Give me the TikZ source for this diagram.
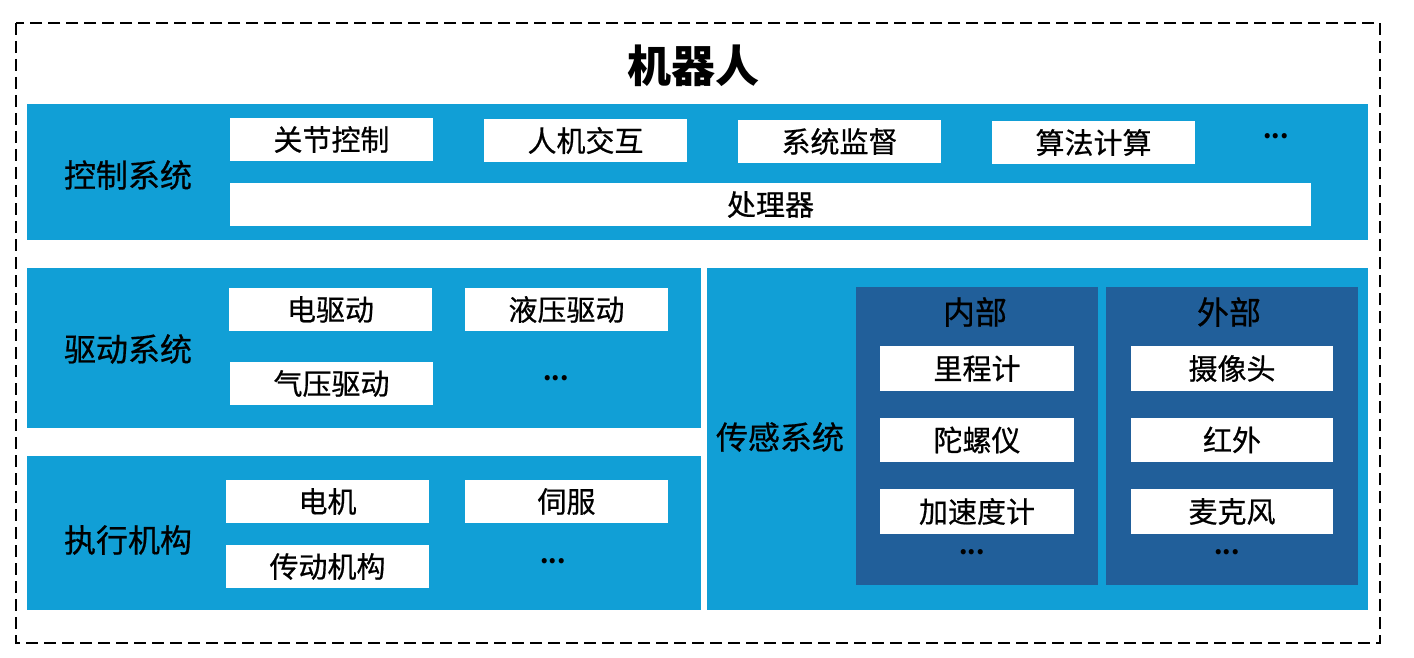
\documentclass[tikz,border=0pt]{standalone}
\usepackage{fontspec}
\newfontfamily\cjk[FakeBold=0.6]{Noto Sans CJK SC}
\newfontfamily\cjkb{Noto Sans CJK SC}
\definecolor{lb}{RGB}{17,159,214}
\definecolor{db}{RGB}{33,95,154}
\tikzset{
  panel/.style={fill=lb,draw=none},
  dpanel/.style={fill=db,draw=none},
  wbox/.style={fill=white,draw=none},
  lbl/.style={font=\cjk\fontsize{32}{36}\selectfont,text=black},
  btxt/.style={font=\cjk\fontsize{29}{32}\selectfont,text=black},
  dots/.style={font=\cjkb\bfseries\fontsize{24}{28}\selectfont,text=black},
}
\begin{document}
\begin{tikzpicture}[x=1pt,y=-1pt]
\useasboundingbox (0,0) rectangle (1414,658);
\draw[black,line width=2.2pt,dash pattern=on 12pt off 6pt] (16,23) rectangle (1380,643);
\node[font=\cjkb\bfseries\fontsize{44}{48}\selectfont] (title) at (693,66) {机器人};
% control
\fill[panel] (27,104) rectangle (1368,240);
\node[lbl] (ctl) at (128,175) {控制系统};
\fill[wbox] (230,118) rectangle (433,161);
\node[btxt] (c1) at (331.5,139.5) {关节控制};
\fill[wbox] (484,119) rectangle (687,162);
\node[btxt] (c2) at (585.5,140.5) {人机交互};
\fill[wbox] (738,120) rectangle (941,163);
\node[btxt] (c3) at (839.5,141.5) {系统监督};
\fill[wbox] (992,121) rectangle (1195,164);
\node[btxt] (c4) at (1093.5,142.5) {算法计算};
\node[dots] (c5) at (1276,136) {...};
\fill[wbox] (230,183) rectangle (1311,226);
\node[btxt] (cpu) at (770.5,204.5) {处理器};
% drive
\fill[panel] (27,268) rectangle (701,428);
\node[lbl] (drv) at (128,349) {驱动系统};
\fill[wbox] (229,288) rectangle (432,331);
\node[btxt] (d1) at (330.5,309.5) {电驱动};
\fill[wbox] (465,288) rectangle (668,331);
\node[btxt] (d2) at (566.5,309.5) {液压驱动};
\fill[wbox] (230,362) rectangle (433,405);
\node[btxt] (d3) at (331.5,383.5) {气压驱动};
\node[dots] (d4) at (556,378) {...};
% actuator
\fill[panel] (27,456) rectangle (701,610);
\node[lbl] (act) at (128,540) {执行机构};
\fill[wbox] (226,480) rectangle (429,523);
\node[btxt] (a1) at (327.5,501.5) {电机};
\fill[wbox] (465,480) rectangle (668,523);
\node[btxt] (a2) at (566.5,501.5) {伺服};
\fill[wbox] (226,545) rectangle (429,588);
\node[btxt] (a3) at (327.5,566.5) {传动机构};
\node[dots] (a4) at (553,561) {...};
% sensor
\fill[panel] (707,268) rectangle (1368,610);
\node[lbl] (sen) at (780,437) {传感系统};
\fill[dpanel] (856,287) rectangle (1098,585);
\fill[dpanel] (1106,287) rectangle (1358,585);
\node[lbl] (in) at (975,312) {内部};
\node[lbl] (out) at (1229,312) {外部};
\fill[wbox] (880,346) rectangle (1074,391);
\node[btxt] (i1) at (977,368.5) {里程计};
\fill[wbox] (880,418) rectangle (1074,462);
\node[btxt] (i2) at (977,440) {陀螺仪};
\fill[wbox] (880,489) rectangle (1074,534);
\node[btxt] (i3) at (977,511.5) {加速度计};
\node[dots] (i4) at (972,552) {...};
\fill[wbox] (1131,346) rectangle (1333,391);
\node[btxt] (o1) at (1232,368.5) {摄像头};
\fill[wbox] (1131,418) rectangle (1333,462);
\node[btxt] (o2) at (1232,440) {红外};
\fill[wbox] (1131,489) rectangle (1333,534);
\node[btxt] (o3) at (1232,511.5) {麦克风};
\node[dots] (o4) at (1227,552) {...};
\end{tikzpicture}
\end{document}
